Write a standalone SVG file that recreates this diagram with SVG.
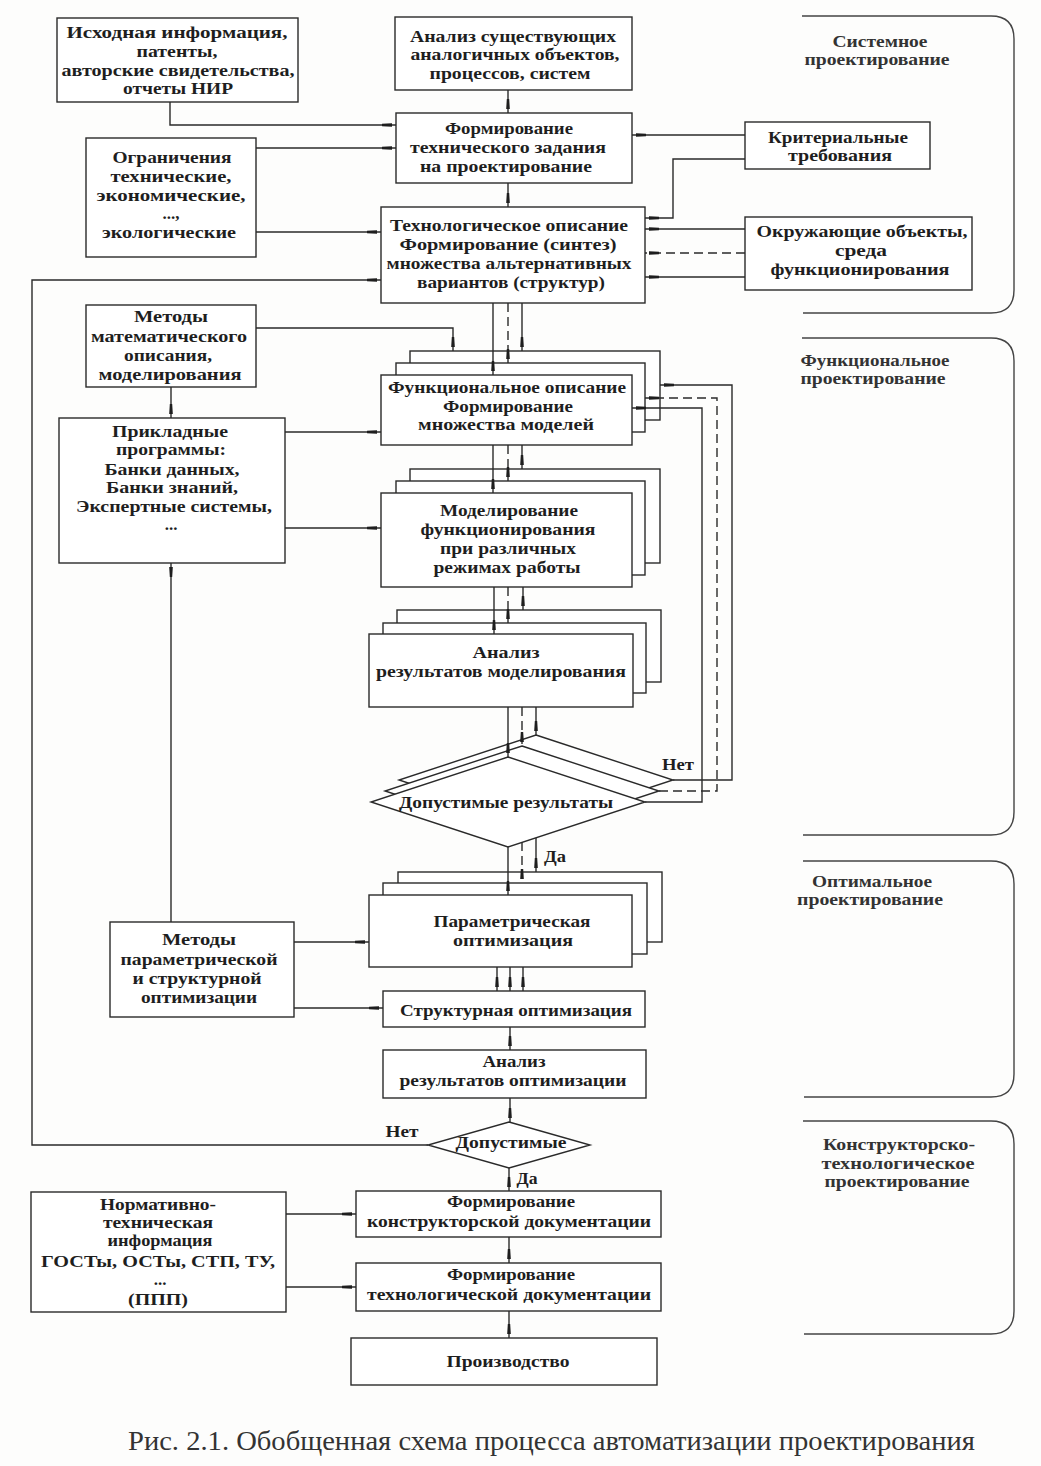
<svg xmlns="http://www.w3.org/2000/svg" width="1041" height="1466" viewBox="0 0 1041 1466">
<style>
.b{fill:#fff;stroke:#2a2a2a;stroke-width:1.4}
.t{font-family:"Liberation Serif","DejaVu Serif",serif;font-size:17px;font-weight:bold;fill:#1e1e1e;text-anchor:middle}
.l{font-family:"Liberation Serif","DejaVu Serif",serif;font-size:16px;font-weight:bold;fill:#333;text-anchor:middle}
.c{fill:none;stroke:#2a2a2a;stroke-width:1.4;marker-end:url(#a)}
.d{stroke-dasharray:9 5}
.br{fill:none;stroke:#444;stroke-width:1.4}
.cap{font-family:"Liberation Serif","Times New Roman",serif;font-size:28px;fill:#333}
</style>
<defs>
<marker id="a" markerUnits="userSpaceOnUse" markerWidth="16" markerHeight="6" viewBox="0 -3 16 6" refX="14" refY="0" orient="auto"><path d="M0,-1.2 L10,-1.8 L10,1.8 L0,1.2 z" fill="#1e1e1e"/></marker>
</defs>
<rect width="1041" height="1466" fill="#fdfdfc"/>

<g id="stages">
<path class="br" d="M802,16 H991 Q1014,16 1014,39 V290 Q1014,313 991,313 H803"/>
<text class="l" x="880" y="47" textLength="95" lengthAdjust="spacingAndGlyphs">Системное</text>
<text class="l" x="877" y="65" textLength="145" lengthAdjust="spacingAndGlyphs">проектирование</text>
<path class="br" d="M802,338 H991 Q1014,338 1014,361 V812 Q1014,835 991,835 H803"/>
<text class="l" x="875" y="366" textLength="149" lengthAdjust="spacingAndGlyphs">Функциональное</text>
<text class="l" x="873" y="384" textLength="145" lengthAdjust="spacingAndGlyphs">проектирование</text>
<path class="br" d="M803,861 H991 Q1014,861 1014,884 V1074 Q1014,1097 991,1097 H804"/>
<text class="l" x="872" y="887" textLength="120" lengthAdjust="spacingAndGlyphs">Оптимальное</text>
<text class="l" x="870" y="905" textLength="146" lengthAdjust="spacingAndGlyphs">проектирование</text>
<path class="br" d="M803,1121 H991 Q1014,1121 1014,1144 V1311 Q1014,1334 991,1334 H804"/>
<text class="l" x="899" y="1150" textLength="152" lengthAdjust="spacingAndGlyphs">Конструкторско-</text>
<text class="l" x="898" y="1169" textLength="153" lengthAdjust="spacingAndGlyphs">технологическое</text>
<text class="l" x="897" y="1187" textLength="145" lengthAdjust="spacingAndGlyphs">проектирование</text>
</g>

<g id="n-ishodnaya">
<rect class="b" x="57" y="18" width="241" height="84"/>
<text class="t" x="177" y="38" textLength="221" lengthAdjust="spacingAndGlyphs">Исходная информация,</text>
<text class="t" x="177" y="57" textLength="81" lengthAdjust="spacingAndGlyphs">патенты,</text>
<text class="t" x="178" y="76" textLength="233" lengthAdjust="spacingAndGlyphs">авторские свидетельства,</text>
<text class="t" x="178" y="94" textLength="110" lengthAdjust="spacingAndGlyphs">отчеты НИР</text>
</g>

<g id="n-analiz-sush">
<rect class="b" x="395" y="17" width="237" height="73"/>
<text class="t" x="513" y="42" textLength="206" lengthAdjust="spacingAndGlyphs">Анализ существующих</text>
<text class="t" x="515" y="60" textLength="209" lengthAdjust="spacingAndGlyphs">аналогичных объектов,</text>
<text class="t" x="510" y="79" textLength="161" lengthAdjust="spacingAndGlyphs">процессов, систем</text>
</g>

<g id="n-tz">
<rect class="b" x="396" y="113" width="236" height="70"/>
<text class="t" x="509" y="134" textLength="128" lengthAdjust="spacingAndGlyphs">Формирование</text>
<text class="t" x="508" y="153" textLength="196" lengthAdjust="spacingAndGlyphs">технического задания</text>
<text class="t" x="506" y="172" textLength="172" lengthAdjust="spacingAndGlyphs">на проектирование</text>
</g>

<g id="n-krit">
<rect class="b" x="745" y="122" width="185" height="47"/>
<text class="t" x="838" y="143" textLength="140" lengthAdjust="spacingAndGlyphs">Критериальные</text>
<text class="t" x="840" y="161" textLength="104" lengthAdjust="spacingAndGlyphs">требования</text>
</g>

<g id="n-ogr">
<rect class="b" x="86" y="138" width="170" height="119"/>
<text class="t" x="172" y="163" textLength="119" lengthAdjust="spacingAndGlyphs">Ограничения</text>
<text class="t" x="171" y="182" textLength="121" lengthAdjust="spacingAndGlyphs">технические,</text>
<text class="t" x="171" y="201" textLength="149" lengthAdjust="spacingAndGlyphs">экономические,</text>
<text class="t" x="171" y="219">...,</text>
<text class="t" x="169" y="238" textLength="134" lengthAdjust="spacingAndGlyphs">экологические</text>
</g>

<g id="n-tehn">
<rect class="b" x="381" y="207" width="264" height="96"/>
<text class="t" x="509" y="231" textLength="238" lengthAdjust="spacingAndGlyphs">Технологическое описание</text>
<text class="t" x="508" y="250" textLength="217" lengthAdjust="spacingAndGlyphs">Формирование (синтез)</text>
<text class="t" x="509" y="269" textLength="245" lengthAdjust="spacingAndGlyphs">множества альтернативных</text>
<text class="t" x="511" y="288" textLength="188" lengthAdjust="spacingAndGlyphs">вариантов (структур)</text>
</g>

<g id="n-okr">
<rect class="b" x="745" y="217" width="227" height="73"/>
<text class="t" x="862" y="237" textLength="211" lengthAdjust="spacingAndGlyphs">Окружающие объекты,</text>
<text class="t" x="861" y="256" textLength="52" lengthAdjust="spacingAndGlyphs">среда</text>
<text class="t" x="860" y="275" textLength="179" lengthAdjust="spacingAndGlyphs">функционирования</text>
</g>

<g id="n-metody-mat">
<rect class="b" x="86" y="305" width="170" height="82"/>
<text class="t" x="171" y="322" textLength="74" lengthAdjust="spacingAndGlyphs">Методы</text>
<text class="t" x="169" y="342" textLength="156" lengthAdjust="spacingAndGlyphs">математического</text>
<text class="t" x="168" y="361" textLength="88" lengthAdjust="spacingAndGlyphs">описания,</text>
<text class="t" x="170" y="380" textLength="143" lengthAdjust="spacingAndGlyphs">моделирования</text>
</g>

<g id="n-prikl">
<rect class="b" x="59" y="418" width="226" height="145"/>
<text class="t" x="170" y="437" textLength="116" lengthAdjust="spacingAndGlyphs">Прикладные</text>
<text class="t" x="171" y="455" textLength="110" lengthAdjust="spacingAndGlyphs">программы:</text>
<text class="t" x="172" y="475" textLength="135" lengthAdjust="spacingAndGlyphs">Банки данных,</text>
<text class="t" x="172" y="493" textLength="132" lengthAdjust="spacingAndGlyphs">Банки знаний,</text>
<text class="t" x="174" y="512" textLength="196" lengthAdjust="spacingAndGlyphs">Экспертные системы,</text>
<text class="t" x="171" y="530">...</text>
</g>

<g id="n-funk">
<rect class="b" x="410" y="351" width="250" height="69"/>
<rect class="b" x="396" y="363" width="249" height="69"/>
<rect class="b" x="381" y="375" width="251" height="70"/>
<text class="t" x="507" y="393" textLength="238" lengthAdjust="spacingAndGlyphs">Функциональное описание</text>
<text class="t" x="508" y="412" textLength="130" lengthAdjust="spacingAndGlyphs">Формирование</text>
<text class="t" x="506" y="430" textLength="176" lengthAdjust="spacingAndGlyphs">множества моделей</text>
</g>

<g id="n-model">
<rect class="b" x="410" y="469" width="250" height="94"/>
<rect class="b" x="396" y="481" width="249" height="94"/>
<rect class="b" x="381" y="493" width="251" height="94"/>
<text class="t" x="509" y="516" textLength="138" lengthAdjust="spacingAndGlyphs">Моделирование</text>
<text class="t" x="508" y="535" textLength="175" lengthAdjust="spacingAndGlyphs">функционирования</text>
<text class="t" x="508" y="554" textLength="136" lengthAdjust="spacingAndGlyphs">при различных</text>
<text class="t" x="507" y="573" textLength="147" lengthAdjust="spacingAndGlyphs">режимах работы</text>
</g>

<g id="n-analiz-mod">
<rect class="b" x="397" y="610" width="264" height="72"/>
<rect class="b" x="383" y="623" width="263" height="70"/>
<rect class="b" x="369" y="634" width="264" height="73"/>
<text class="t" x="506" y="658" textLength="67" lengthAdjust="spacingAndGlyphs">Анализ</text>
<text class="t" x="501" y="677" textLength="250" lengthAdjust="spacingAndGlyphs">результатов моделирования</text>
</g>

<g id="n-dop1">
<polygon class="b" points="536,735 673,780 536,825 399,780"/>
<polygon class="b" points="522,746 659,791 522,836 385,791"/>
<polygon class="b" points="508,757 645,802 508,847 371,802"/>
<text class="t" x="506" y="808" textLength="214" lengthAdjust="spacingAndGlyphs">Допустимые результаты</text>
</g>

<g id="n-param">
<rect class="b" x="398" y="872" width="264" height="70"/>
<rect class="b" x="383" y="883" width="264" height="71"/>
<rect class="b" x="369" y="895" width="263" height="72"/>
<text class="t" x="512" y="927" textLength="157" lengthAdjust="spacingAndGlyphs">Параметрическая</text>
<text class="t" x="513" y="946" textLength="120" lengthAdjust="spacingAndGlyphs">оптимизация</text>
</g>

<g id="n-metody-opt">
<rect class="b" x="110" y="922" width="184" height="95"/>
<text class="t" x="199" y="945" textLength="74" lengthAdjust="spacingAndGlyphs">Методы</text>
<text class="t" x="199" y="965" textLength="157" lengthAdjust="spacingAndGlyphs">параметрической</text>
<text class="t" x="197" y="984" textLength="129" lengthAdjust="spacingAndGlyphs">и структурной</text>
<text class="t" x="199" y="1003" textLength="116" lengthAdjust="spacingAndGlyphs">оптимизации</text>
</g>

<g id="n-strukt">
<rect class="b" x="383" y="991" width="262" height="36"/>
<text class="t" x="516" y="1016" textLength="232" lengthAdjust="spacingAndGlyphs">Структурная оптимизация</text>
</g>

<g id="n-analiz-opt">
<rect class="b" x="383" y="1050" width="263" height="48"/>
<text class="t" x="514" y="1067" textLength="63" lengthAdjust="spacingAndGlyphs">Анализ</text>
<text class="t" x="513" y="1086" textLength="227" lengthAdjust="spacingAndGlyphs">результатов оптимизации</text>
</g>

<g id="n-dop2">
<polygon class="b" points="509,1122 590,1145 509,1168 428,1145"/>
<text class="t" x="511" y="1148" textLength="111" lengthAdjust="spacingAndGlyphs">Допустимые</text>
</g>

<g id="n-konstr">
<rect class="b" x="356" y="1191" width="305" height="46"/>
<text class="t" x="511" y="1207" textLength="128" lengthAdjust="spacingAndGlyphs">Формирование</text>
<text class="t" x="509" y="1227" textLength="284" lengthAdjust="spacingAndGlyphs">конструкторской документации</text>
</g>

<g id="n-tehnol">
<rect class="b" x="356" y="1263" width="305" height="48"/>
<text class="t" x="511" y="1280" textLength="128" lengthAdjust="spacingAndGlyphs">Формирование</text>
<text class="t" x="509" y="1300" textLength="284" lengthAdjust="spacingAndGlyphs">технологической документации</text>
</g>

<g id="n-proizv">
<rect class="b" x="351" y="1338" width="306" height="47"/>
<text class="t" x="508" y="1367" textLength="123" lengthAdjust="spacingAndGlyphs">Производство</text>
</g>

<g id="n-norm">
<rect class="b" x="31" y="1192" width="255" height="120"/>
<text class="t" x="158" y="1210" textLength="116" lengthAdjust="spacingAndGlyphs">Нормативно-</text>
<text class="t" x="158" y="1228" textLength="110" lengthAdjust="spacingAndGlyphs">техническая</text>
<text class="t" x="160" y="1246" textLength="105" lengthAdjust="spacingAndGlyphs">информация</text>
<text class="t" x="158" y="1267" textLength="234" lengthAdjust="spacingAndGlyphs">ГОСТы, ОСТы, СТП, ТУ,</text>
<text class="t" x="160" y="1285">...</text>
<text class="t" x="158" y="1305" textLength="60" lengthAdjust="spacingAndGlyphs">(ППП)</text>
</g>

<g id="connectors">
<path class="c" d="M170,102 V125 H396"/>
<path class="c" d="M508,90 V113"/>
<path class="c" d="M256,148 H396"/>
<path class="c" d="M256,232 H381"/>
<path class="c" d="M508,183 V207"/>
<path class="c" d="M745,135 H632"/>
<path class="c" d="M745,159 H673 V218 H645"/>
<path class="c" d="M745,229 H645"/>
<path class="c d" d="M745,253 H645"/>
<path class="c" d="M745,277 H645"/>
<path class="c" d="M428,1145 H32 V280 H381"/>
<path class="c" d="M256,328 H453 V351"/>
<path class="c" d="M171,387 V418"/>
<path class="c" d="M285,432 H381"/>
<path class="c" d="M285,528 H381"/>
<path class="c" d="M171,922 V563"/>
<path class="c" d="M493,303 V375"/>
<path class="c d" d="M508,303 V363"/>
<path class="c" d="M522,303 V351"/>
<path class="c" d="M493,445 V493"/>
<path class="c d" d="M508,445 V481"/>
<path class="c" d="M522,445 V469"/>
<path class="c" d="M494,587 V634"/>
<path class="c d" d="M508,587 V623"/>
<path class="c" d="M523,587 V610"/>
<path class="c" d="M508,707 V757"/>
<path class="c d" d="M522,707 V746"/>
<path class="c" d="M536,707 V735"/>
<path class="c" d="M673,780 H732 V385 H660"/>
<path class="c d" d="M659,791 H717 V398 H645"/>
<path class="c" d="M645,802 H702 V408 H632"/>
<path class="c" d="M508,847 V895"/>
<path class="c d" d="M522,842 V883"/>
<path class="c" d="M536,838 V872"/>
<path class="c" d="M294,942 H369"/>
<path class="c" d="M294,1008 H383"/>
<path class="c" d="M497,967 V991"/>
<path class="c" d="M510,967 V991"/>
<path class="c" d="M523,967 V991"/>
<path class="c" d="M510,1027 V1050"/>
<path class="c" d="M510,1098 V1122"/>
<path class="c" d="M509,1168 V1191"/>
<path class="c" d="M509,1237 V1263"/>
<path class="c" d="M509,1311 V1338"/>
<path class="c" d="M286,1214 H356"/>
<path class="c" d="M286,1287 H356"/>
<text class="t" x="678" y="770" textLength="32" lengthAdjust="spacingAndGlyphs">Нет</text>
<text class="t" x="555" y="862" textLength="22" lengthAdjust="spacingAndGlyphs">Да</text>
<text class="t" x="402" y="1137" textLength="33" lengthAdjust="spacingAndGlyphs">Нет</text>
<text class="t" x="527" y="1184" textLength="21" lengthAdjust="spacingAndGlyphs">Да</text>
</g>

<text class="cap" x="128" y="1450" textLength="847" lengthAdjust="spacingAndGlyphs">Рис. 2.1. Обобщенная схема процесса автоматизации проектирования</text>
</svg>
